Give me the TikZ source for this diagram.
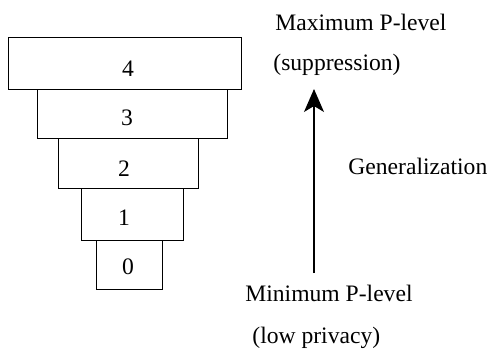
\documentclass[tikz,border=0pt]{standalone}
\usepackage{fontspec}
\setmainfont{Liberation Serif}
\usetikzlibrary{arrows.meta}
\begin{document}
\begin{tikzpicture}[x=0.5pt,y=-0.5pt,
  lvl/.style={draw, line width=0.65pt, inner sep=0pt, anchor=north west},
  num/.style={inner sep=0pt, font=\fontsize{11.8}{14}\selectfont},
  txt/.style={inner sep=0pt, anchor=west, font=\fontsize{11.8}{14}\selectfont},
  gen/.style={line width=0.65pt, -{Stealth[length=11.5pt, width=10pt, inset=3pt]}}]
\useasboundingbox (0,0) rectangle (489,349);
% level boxes
\node[lvl, minimum width=116.5pt, minimum height=26pt] (b4) at (8,37) {};
\node[lvl, minimum width=95pt, minimum height=24.5pt] (b3) at (37,89) {};
\node[lvl, minimum width=70pt, minimum height=25pt] (b2) at (58,138) {};
\node[lvl, minimum width=51pt, minimum height=26pt] (b1) at (81,188) {};
\node[lvl, minimum width=33pt, minimum height=24.5pt] (b0) at (96,240) {};
% numbers
\node[num] (n4) at (128,69) {4};
\node[num] (n3) at (127,117.5) {3};
\node[num] (n2) at (124,168.5) {2};
\node[num] (n1) at (124,218) {1};
\node[num] (n0) at (128,267) {0};
% texts
\node[txt] (maxl) at (275,22) {Maximum P-level};
\node[txt] (supp) at (273,65) {(suppression)};
\node[txt] (genl) at (348,166) {Generalization};
\node[txt] (minl) at (245,293) {Minimum P-level};
\node[txt] (lowp) at (252,338) {(low privacy)};
% arrow
\coordinate (a0) at (314,273);
\coordinate (a1) at (314,89);
\draw[gen] (a0) -- (a1);
\end{tikzpicture}
\end{document}
